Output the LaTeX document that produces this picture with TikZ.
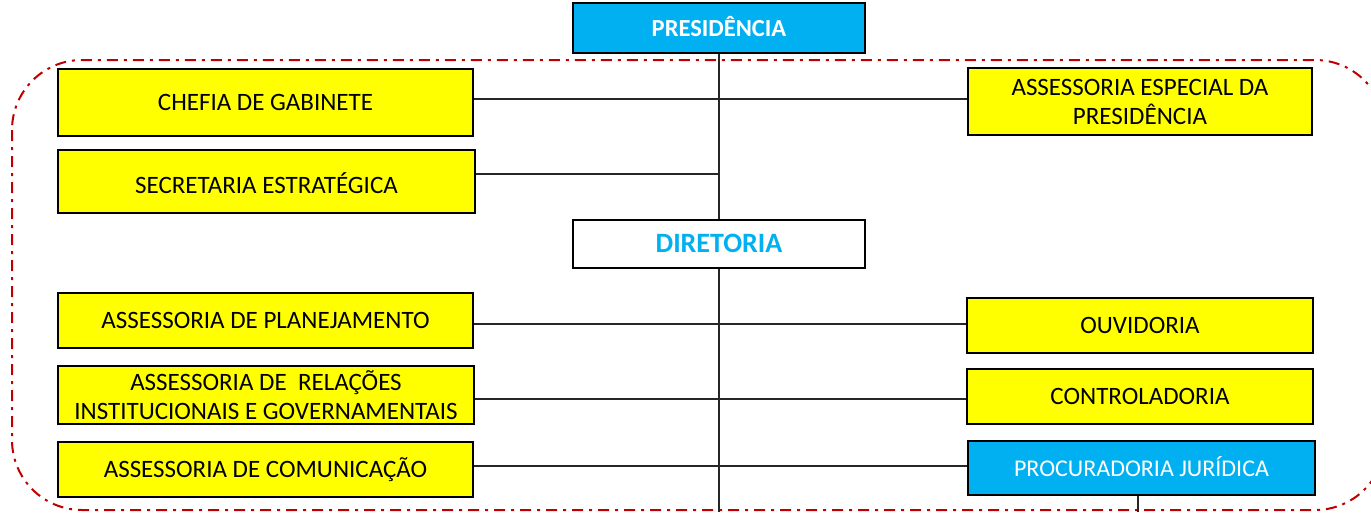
\documentclass[tikz,border=0pt]{standalone}
\usepackage{fontspec}
\setmainfont{Carlito}
\definecolor{boxyellow}{HTML}{FFFF00}
\definecolor{boxcyan}{HTML}{00B0F0}
\definecolor{borderred}{HTML}{C00000}
\begin{document}
\begin{tikzpicture}[x=1pt,y=-1pt,
  orgbox/.style={draw=black, line width=2.4pt, inner sep=0pt, font=\fontsize{25}{29}\selectfont, align=center},
  yellowbox/.style={orgbox, fill=boxyellow},
  onel/.style={text height=16pt, text depth=0pt},
  link/.style={draw=black!85, line width=1.2pt},
  frame/.style={draw=borderred, line width=2pt, dash pattern=on 11pt off 6pt on 3pt off 6pt, rounded corners=70pt}
]
\useasboundingbox (0,0) rectangle (1371,512);
\clip (0,0) rectangle (1371,512);

\draw[frame] (12,60) rectangle (1385,510);

\node[orgbox, onel, fill=boxcyan, text=white, minimum width=292pt, minimum height=50pt, font=\fontsize{24.5}{29}\selectfont\bfseries] (pres) at (719,28) {PRESIDÊNCIA};
\node[yellowbox, onel, minimum width=415pt, minimum height=67pt] (chefia) at (265.5,102.5) {CHEFIA DE GABINETE};
\node[yellowbox, onel, minimum width=417pt, minimum height=63pt] (sec) at (266.5,181.5) {\raisebox{-4pt}{SECRETARIA ESTRATÉGICA}};
\node[yellowbox, minimum width=344pt, minimum height=67pt] (aesp) at (1140,101.5) {ASSESSORIA ESPECIAL DA\\PRESIDÊNCIA};
\node[orgbox, onel, fill=white, text=boxcyan, minimum width=292pt, minimum height=48pt, font=\fontsize{28}{32}\selectfont\bfseries] (dir) at (719,244) {DIRETORIA};
\node[yellowbox, onel, minimum width=415pt, minimum height=55pt] (plan) at (265.5,320.5) {ASSESSORIA DE PLANEJAMENTO};
\node[yellowbox, minimum width=416pt, minimum height=58pt] (rel) at (266,395) {ASSESSORIA DE\ \ RELAÇÕES\\INSTITUCIONAIS E GOVERNAMENTAIS};
\node[yellowbox, onel, minimum width=415pt, minimum height=55pt] (com) at (265.5,469.5) {ASSESSORIA DE COMUNICAÇÃO};
\node[yellowbox, onel, minimum width=346pt, minimum height=55pt] (ouv) at (1140,325.5) {OUVIDORIA};
\node[yellowbox, onel, minimum width=346pt, minimum height=55pt] (con) at (1140,396.5) {CONTROLADORIA};
\node[orgbox, onel, fill=boxcyan, text=white, minimum width=347pt, minimum height=54pt, font=\fontsize{24}{29}\selectfont] (proc) at (1141.5,468) {PROCURADORIA JURÍDICA};

\coordinate (ya) at (0,99);
\coordinate (yb) at (0,174);
\coordinate (yc) at (0,324);
\coordinate (yd) at (0,399);
\coordinate (ye) at (0,466);
\coordinate (trunkend) at (719,512);
\coordinate (procend) at (1138,512);

\draw[link] (pres.south) -- (dir.north);
\draw[link] (dir.south) -- (trunkend);
\draw[link] (chefia.east |- ya) -- (aesp.west |- ya);
\draw[link] (sec.east |- yb) -- (pres.south |- yb);
\draw[link] (plan.east |- yc) -- (ouv.west |- yc);
\draw[link] (rel.east |- yd) -- (con.west |- yd);
\draw[link] (com.east |- ye) -- (proc.west |- ye);
\draw[link] (procend |- proc.south) -- (procend);
\end{tikzpicture}
\end{document}
